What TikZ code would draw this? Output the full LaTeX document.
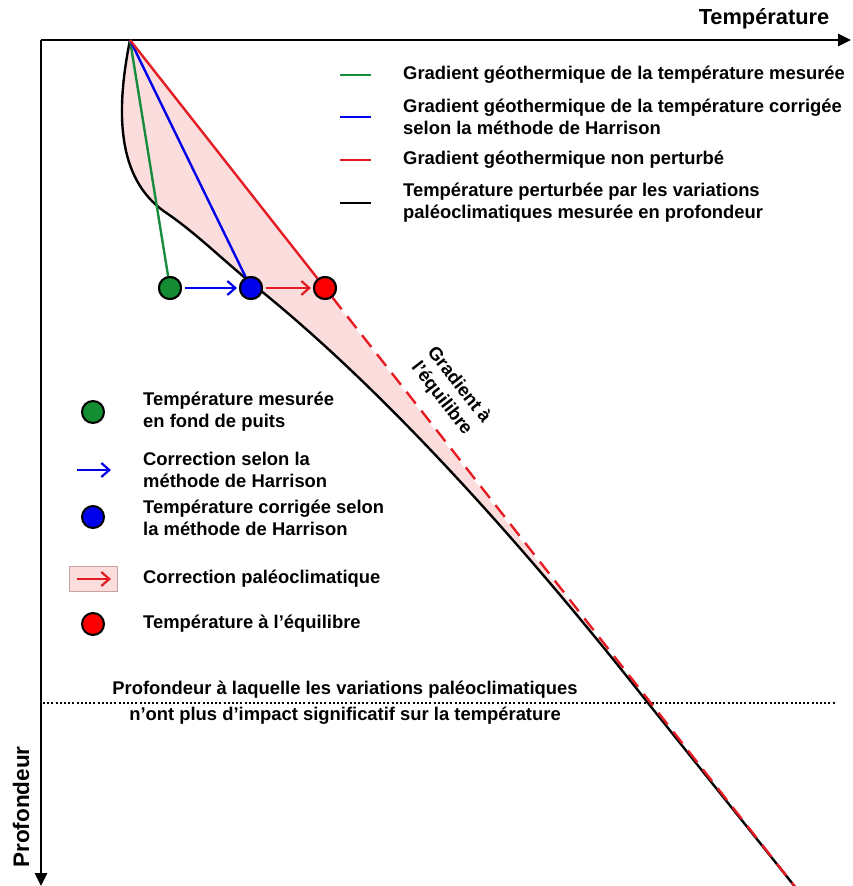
\documentclass[tikz,border=0pt]{standalone}
\usepackage{fontspec}
\setmainfont{Liberation Sans}
\usetikzlibrary{arrows.meta}
\definecolor{mygreen}{RGB}{22,140,60}
\definecolor{myblue}{RGB}{0,0,235}
\definecolor{myred}{RGB}{228,28,36}
\definecolor{dotred}{RGB}{250,0,0}
\definecolor{dotgreen}{RGB}{20,140,50}
\definecolor{pinkfill}{RGB}{252,221,221}
\definecolor{pinkedge}{RGB}{200,160,160}
\begin{document}
\begin{tikzpicture}[x=1pt,y=-1pt,
  font=\bfseries\fontsize{18.4}{22}\selectfont,
  axisline/.style={line width=2.6pt,-{Triangle[length=13pt,width=12pt]}},
  gline/.style={line width=2.4pt},
  dotnode/.style={circle,draw=black,line width=2pt,minimum size=22pt,inner sep=0pt},
  corrarrow/.style={line width=2.2pt,-{Straight Barb[length=8pt,width=14pt]}},
  legtext/.style={anchor=west,align=left,inner sep=0pt},
  dashedred/.style={myred,line width=2.4pt,dash pattern=on 15pt off 9pt}
]
\useasboundingbox (0,0) rectangle (853,886);
% key points
\coordinate (origin) at (41,40);
\coordinate (xend) at (851,40);
\coordinate (yend) at (41,886);
\coordinate (top) at (130,40);
\coordinate (k1) at (165,212);
\coordinate (k2) at (255,286);
\coordinate (cross) at (648,703);
\coordinate (bot) at (796,888);
% pink area
\fill[pinkfill] (top) .. controls (116,110) and (116,178) .. (k1)
  .. controls (195,232) and (225,262) .. (k2)
  .. controls (380,386) and (518,538) .. (cross) -- (top) -- cycle;
% axes
\draw[axisline] (origin) -- (xend);
\draw[axisline] (origin) -- (yend);
% dotted depth line
\coordinate (dl) at (43,703);
\coordinate (dr) at (835,703);
\draw[line width=2pt,dash pattern=on 2pt off 2.2pt] (dl) -- (dr);
% dots
\node[dotnode,fill=dotgreen] (gdot) at (170,288) {};
\node[dotnode,fill=myblue] (bdot) at (251,288) {};
\node[dotnode,fill=dotred] (rdot) at (325,288) {};
% black curve
\draw[line width=2.4pt] (top) .. controls (116,110) and (116,178) .. (k1)
  .. controls (195,232) and (225,262) .. (k2)
  .. controls (380,386) and (518,538) .. (cross) -- (bot);
% gradients
\draw[gline,mygreen] (top) -- (gdot);
\draw[gline,myblue] (top) -- (bdot);
\draw[gline,myred] (top) -- (rdot);
\draw[dashedred] (rdot) -- (bot);
% redraw dots on top
\node[dotnode,fill=dotgreen] at (gdot) {};
\node[dotnode,fill=myblue] at (bdot) {};
\node[dotnode,fill=dotred] at (rdot) {};
% correction arrows
\draw[corrarrow,myblue,shorten <=3pt,shorten >=2pt] (gdot) -- (bdot);
\draw[corrarrow,myred,shorten <=3pt,shorten >=2pt] (bdot) -- (rdot);
% axis labels
\node[font=\bfseries\fontsize{21.8}{24}\selectfont] (tlabel) at (764,19) {Température};
\node[font=\bfseries\fontsize{22.5}{24}\selectfont,rotate=90] (plabel) at (21,807) {Profondeur};
% gradient label
\node[align=center,rotate=-52,inner sep=0pt] (eqlabel) at (450,392) {Gradient à\\l’équilibre};
% top legend
\coordinate (l1a) at (340,75); \coordinate (l1b) at (371,75);
\coordinate (l2a) at (340,117); \coordinate (l2b) at (371,117);
\coordinate (l3a) at (340,160); \coordinate (l3b) at (371,160);
\coordinate (l4a) at (340,203); \coordinate (l4b) at (371,203);
\draw[gline,mygreen] (l1a) -- (l1b);
\draw[gline,myblue] (l2a) -- (l2b);
\draw[gline,myred] (l3a) -- (l3b);
\draw[gline,black] (l4a) -- (l4b);
\node[legtext] (t1) at (403,75) {Gradient géothermique de la température mesurée};
\node[legtext] (t2) at (403,117) {Gradient géothermique de la température corrigée\\selon la méthode de Harrison};
\node[legtext] (t3) at (403,160) {Gradient géothermique non perturbé};
\node[legtext] (t4) at (403,203) {Température perturbée par les variations\\paléoclimatiques mesurée en profondeur};
% left legend
\node[dotnode,fill=dotgreen] (lg) at (93,412) {};
\coordinate (la1) at (77,470); \coordinate (la2) at (111,470);
\draw[corrarrow,myblue] (la1) -- (la2);
\node[dotnode,fill=myblue] (lb) at (93,517) {};
\node[draw=pinkedge,fill=pinkfill,line width=0.8pt,minimum width=48pt,minimum height=25pt,inner sep=0pt] (lbox) at (93,579) {};
\coordinate (lr1) at (77,579); \coordinate (lr2) at (111,579);
\draw[corrarrow,myred] (lr1) -- (lr2);
\node[dotnode,fill=dotred] (lr) at (93,624) {};
\node[legtext] (s1) at (143,412) {Température mesurée\\en fond de puits};
\node[legtext] (s2) at (143,470) {Correction selon la\\méthode de Harrison};
\node[legtext] (s3) at (143,518) {Température corrigée selon\\la méthode de Harrison};
\node[legtext] (s4) at (143,579) {Correction paléoclimatique};
\node[legtext] (s5) at (143,624) {Température à l’équilibre};
% depth text
\node (d1) at (345,690) {Profondeur à laquelle les variations paléoclimatiques};
\node (d2) at (345,716) {n’ont plus d’impact significatif sur la température};
\end{tikzpicture}
\end{document}
